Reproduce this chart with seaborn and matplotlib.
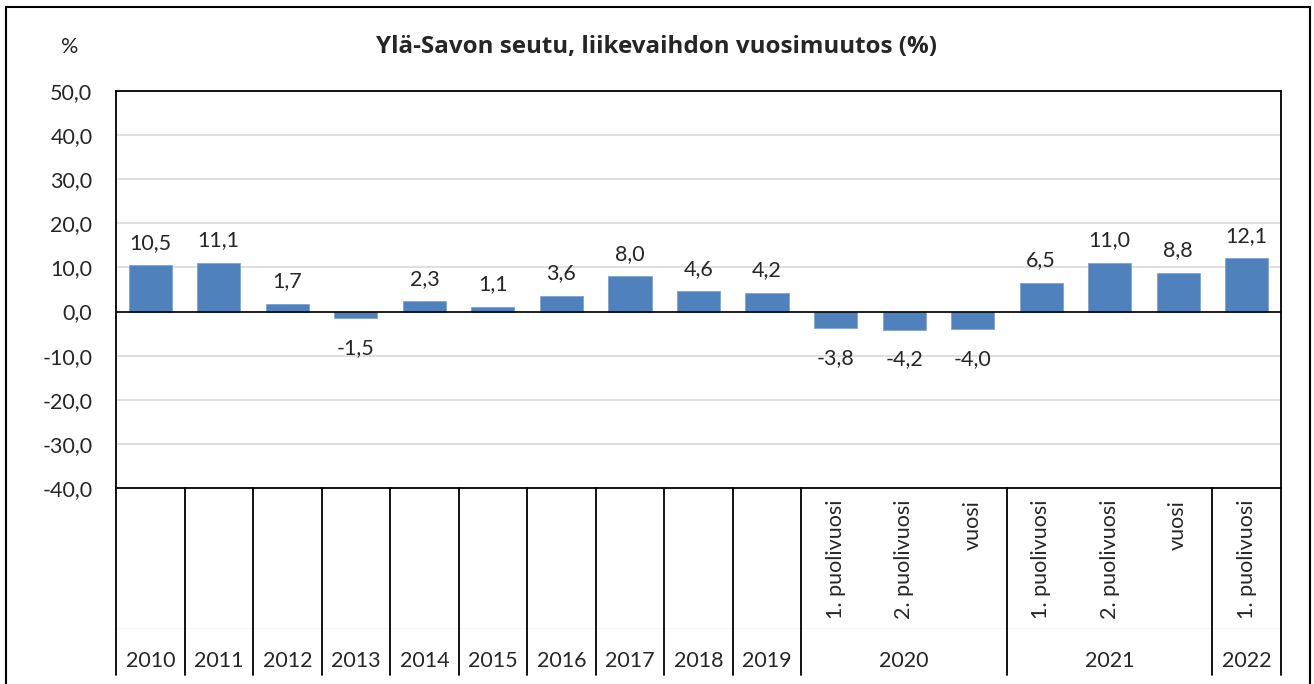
"""Ylä-Savon seutu, liikevaihdon vuosimuutos (%) - pylväskaavio."""
import matplotlib
matplotlib.use("Agg")
import numpy as np
import pandas as pd
import matplotlib.pyplot as plt
import seaborn as sns
from matplotlib.patches import Rectangle

# data
years = ["2010", "2011", "2012", "2013", "2014", "2015", "2016", "2017", "2018", "2019",
         "2020", "2020", "2020", "2021", "2021", "2021", "2022"]
periods = [""] * 10 + ["1. puolivuosi", "2. puolivuosi", "vuosi",
                       "1. puolivuosi", "2. puolivuosi", "vuosi", "1. puolivuosi"]
values = [10.5, 11.1, 1.7, -1.5, 2.3, 1.1, 3.6, 8.0, 4.6, 4.2,
          -3.8, -4.2, -4.0, 6.5, 11.0, 8.8, 12.1]
y_ticks = [-40, -30, -20, -10, 0, 10, 20, 30, 40, 50]

title = "Ylä-Savon seutu, liikevaihdon vuosimuutos (%)"
bar_color = "#4F81BD"
fs = 15.5


def fi(v):
    return f"{v:.1f}".replace(".", ",")


sns.set_style("white")
plt.rcParams["font.family"] = ["Lato", "DejaVu Sans"]

df = pd.DataFrame({
    "key": [f"{y} {p}".strip() for y, p in zip(years, periods)],
    "year": years,
    "period": periods,
    "value": values,
})

fig = plt.figure(figsize=(13.14, 6.84), dpi=100)
ax = fig.add_axes([116 / 1314, 1 - 488 / 684, 1165 / 1314, 397 / 684])

sns.barplot(data=df, x="key", y="value", order=df["key"], color=bar_color,
            width=0.63, saturation=1, edgecolor="#7fa3d1", linewidth=0.6, ax=ax)

ax.set_ylim(-40, 50)
ax.set_xlim(-0.5, len(df) - 0.5)
ax.set_yticks(y_ticks)
ax.set_yticklabels([fi(t) for t in y_ticks], fontsize=fs)
ax.tick_params(axis="y", length=0, pad=17)
ax.set_xticks([])
ax.set_xlabel("")
ax.set_ylabel("")
ax.yaxis.grid(True, color="#d9d9d9", lw=1.2)
ax.set_axisbelow(True)
ax.axhline(0, color="black", lw=1.2)
for s in ax.spines.values():
    s.set_visible(True)
    s.set_color("black")
    s.set_linewidth(1.3)

# arvojen tekstit
for i, v in enumerate(values):
    if v >= 0:
        ax.annotate(fi(v), (i, v), xytext=(0, 9), textcoords="offset points",
                    ha="center", va="bottom", fontsize=fs)
    else:
        ax.annotate(fi(v), (i, v), xytext=(0, -14), textcoords="offset points",
                    ha="center", va="top", fontsize=fs)

# moniportainen kategoria-akseli
tr = ax.get_xaxis_transform()
bottom = -0.471
boundaries = [i - 0.5 for i in range(11)] + [12.5, 15.5, 16.5]
for b in boundaries:
    ax.plot([b, b], [0, bottom], transform=tr, color="black", lw=1.3, clip_on=False)
ax.plot([-0.5, len(df) - 0.5], [-0.353, -0.353], transform=tr, color="#f4f4f4",
        lw=0.6, clip_on=False, zorder=0)

for i, p in enumerate(periods):
    if p:
        ax.text(i, -0.03, p, transform=tr, rotation=90, ha="center", va="top",
                fontsize=fs)

groups = df.groupby("year", sort=False).apply(lambda g: g.index.to_numpy().mean(),
                                              include_groups=False)
for y, pos in groups.items():
    ax.text(pos, -0.435, y, transform=tr, ha="center", va="center", fontsize=fs)

fig.text(70 / 1314, 1 - 47 / 684, "%", ha="center", va="center", fontsize=fs)
fig.text(0.5, 1 - 47 / 684, title, ha="center", va="center", fontsize=17.4,
         fontweight="bold", family=["Open Sans", "DejaVu Sans"])

fig.patches.append(Rectangle((6 / 1314, -0.05), 1304 / 1314, 1.05 - 7 / 684,
                             transform=fig.transFigure, fill=False,
                             edgecolor="black", lw=1.5))

fig.savefig("out.png", dpi=100)
